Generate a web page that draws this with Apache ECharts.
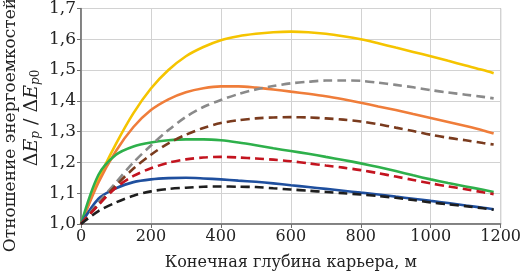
<!DOCTYPE html>
<html>
<head>
<meta charset="utf-8">
<script src="https://cdn.jsdelivr.net/npm/echarts@6/dist/echarts.min.js"></script>
<style>
  html, body { margin: 0; padding: 0; background: #fff; }
  #chart { width: 524px; height: 276px; }
</style>
</head>
<body>
<div id="chart"></div>
<script>
const depth = [0, 50, 100, 150, 200, 250, 300, 350, 400, 450, 500, 550, 600, 650, 700, 750, 800, 850, 900, 950, 1000, 1050, 1100, 1150, 1180]

const yellow = [1.0, 1.145, 1.26, 1.36, 1.44, 1.5, 1.545, 1.575, 1.597, 1.61, 1.618, 1.623, 1.625, 1.623, 1.618, 1.61, 1.6, 1.587, 1.573, 1.559, 1.545, 1.53, 1.515, 1.5, 1.49]
const orange = [1.0, 1.135, 1.237, 1.315, 1.37, 1.405, 1.428, 1.441, 1.447, 1.447, 1.443, 1.437, 1.43, 1.423, 1.415, 1.405, 1.394, 1.382, 1.37, 1.357, 1.344, 1.331, 1.318, 1.304, 1.294]
const green = [1.0, 1.16, 1.225, 1.252, 1.265, 1.272, 1.275, 1.275, 1.272, 1.265, 1.256, 1.246, 1.237, 1.228, 1.218, 1.208, 1.197, 1.185, 1.172, 1.158, 1.145, 1.133, 1.122, 1.111, 1.104]
const blue = [1.0, 1.082, 1.116, 1.136, 1.145, 1.149, 1.15, 1.148, 1.145, 1.141, 1.137, 1.132, 1.126, 1.12, 1.114, 1.108, 1.102, 1.096, 1.089, 1.082, 1.075, 1.068, 1.06, 1.053, 1.048]
const grayDash = [1.0, 1.07, 1.135, 1.2, 1.255, 1.305, 1.348, 1.38, 1.403, 1.422, 1.437, 1.448, 1.457, 1.462, 1.466, 1.466, 1.465, 1.459, 1.452, 1.444, 1.435, 1.427, 1.42, 1.413, 1.408]
const brownDash = [1.0, 1.063, 1.125, 1.18, 1.225, 1.262, 1.29, 1.312, 1.328, 1.337, 1.343, 1.346, 1.347, 1.346, 1.343, 1.339, 1.333, 1.324, 1.313, 1.302, 1.29, 1.28, 1.272, 1.263, 1.258]
const redDash = [1.0, 1.062, 1.118, 1.156, 1.181, 1.199, 1.21, 1.216, 1.218, 1.216, 1.213, 1.209, 1.204, 1.197, 1.19, 1.183, 1.175, 1.165, 1.154, 1.143, 1.132, 1.122, 1.113, 1.103, 1.097]
const blackDash = [1.0, 1.042, 1.07, 1.092, 1.106, 1.114, 1.118, 1.121, 1.122, 1.121, 1.12, 1.116, 1.112, 1.108, 1.104, 1.1, 1.096, 1.091, 1.085, 1.078, 1.07, 1.064, 1.058, 1.051, 1.046]

const font = 'DejaVu Serif'

function pairs(vals) {
  return depth.map((d, i) => [d, vals[i]])
}

function line(vals, color, dashed) {
  return {
    type: 'line',
    data: pairs(vals),
    smooth: 0.3,
    showSymbol: false,
    silent: true,
    lineStyle: {
      color: color,
      width: 2.6,
      type: dashed ? [9, 5] : 'solid'
    }
  }
}

const chart = echarts.init(document.getElementById('chart'))
chart.setOption({
  animation: false,
  grid: {
    left: 81,
    right: 22,
    top: 8.5,
    bottom: 51,
    show: true,
    borderColor: '#7a7a7a',
    borderWidth: 1
  },
  xAxis: {
    type: 'value',
    min: 0,
    max: 1200,
    interval: 200,
    axisLine: { show: true, onZero: false, lineStyle: { color: '#6e6e6e', width: 1.5 } },
    axisTick: { show: true, length: 4, lineStyle: { color: '#6e6e6e' } },
    splitLine: { show: true, lineStyle: { color: '#d2d2d2' } },
    axisLabel: {
      fontFamily: font,
      fontSize: 16,
      color: '#222',
      margin: 5,
      formatter: v => String(v)
    },
    name: 'Конечная глубина карьера, м',
    nameLocation: 'middle',
    nameGap: 31,
    nameTextStyle: { fontFamily: font, fontSize: 16, color: '#222' }
  },
  yAxis: {
    type: 'value',
    min: 1.0,
    max: 1.7,
    interval: 0.1,
    axisLine: { show: true, lineStyle: { color: '#6e6e6e', width: 1.5 } },
    axisTick: { show: true, length: 4, lineStyle: { color: '#6e6e6e' } },
    splitLine: { show: true, lineStyle: { color: '#d2d2d2' } },
    axisLabel: {
      fontFamily: font,
      fontSize: 17,
      color: '#222',
      margin: 5,
      formatter: v => v.toFixed(1).replace('.', ',')
    }
  },
  graphic: [
    {
      type: 'text',
      x: 11,
      y: 125,
      rotation: Math.PI / 2,
      style: {
        text: 'Отношение энергоемкостей',
        font: '17px "DejaVu Serif"',
        fill: '#222',
        align: 'center',
        verticalAlign: 'middle'
      }
    },
    {
      type: 'text',
      x: 32,
      y: 118,
      rotation: Math.PI / 2,
      style: {
        text: 'Δ{i|E}{s|p} / Δ{i|E}{s|p}{u|0}',
        font: '19px "DejaVu Serif"',
        fill: '#222',
        align: 'center',
        verticalAlign: 'middle',
        rich: {
          i: { fontFamily: font, fontSize: 19, fontStyle: 'italic', fill: '#222' },
          s: { fontFamily: font, fontSize: 12, fontStyle: 'italic', verticalAlign: 'bottom', padding: [8, 0, 0, 0], fill: '#222' },
          u: { fontFamily: font, fontSize: 12, verticalAlign: 'bottom', padding: [8, 0, 0, 0], fill: '#222' }
        }
      }
    }
  ],
  series: [
    line(yellow, '#f5c400', false),
    line(orange, '#ef7d3a', false),
    line(green, '#2eb04b', false),
    line(blue, '#1f4f9e', false),
    line(grayDash, '#8a8a8a', true),
    line(brownDash, '#7a3b1e', true),
    line(redDash, '#c3141f', true),
    line(blackDash, '#1e1e1e', true)
  ]
})
</script>
</body>
</html>
